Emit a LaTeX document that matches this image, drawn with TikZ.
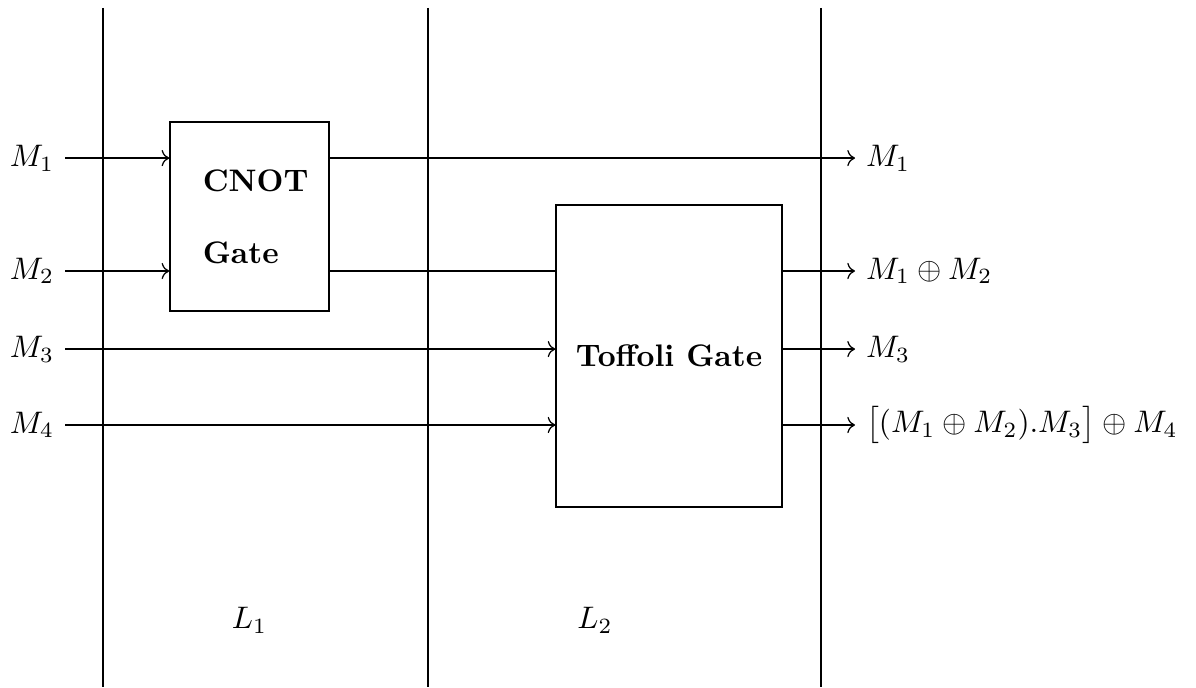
\documentclass[tikz,border=0pt]{standalone}
\usepackage{amsmath}
\usepackage{tikz}
\usetikzlibrary{arrows.meta,positioning,calc}
\tikzset{
  gatebox/.style={
    rectangle, draw=black, thin, align=left,
    font=\bfseries
  },
  wirearrow/.style={->, thin},
  wireline/.style={thin},
  layerline/.style={line width=0.9pt}
}

\begin{document}
\begin{tikzpicture}
\useasboundingbox (0,0) rectangle (13.5,-7.755);

% layer separators
\draw[layerline] (1.163,-0.090) -- (1.163,-7.755);
\draw[layerline] (4.831,-0.090) -- (4.831,-7.755);
\draw[layerline] (9.267,-0.090) -- (9.267,-7.755);

% gates
\node[gatebox, minimum width=1.795cm, minimum height=2.133cm] (cnot) at (2.816,-2.444)
  {\hspace*{4pt}CNOT\\[11pt]\hspace*{4pt}Gate};
\node[gatebox, minimum width=2.551cm, minimum height=3.409cm] (toffoli) at (7.552,-4.019)
  {Toffoli Gate};

% inputs
\node[anchor=east] (in1) at (0.734,-1.784) {$M_1$};
\node[anchor=east] (in2) at (0.734,-3.059) {$M_2$};
\node[anchor=east] (in3) at (0.734,-3.940) {$M_3$};
\node[anchor=east] (in4) at (0.734,-4.797) {$M_4$};

% outputs
\node[anchor=west] (out1) at (9.651,-1.784) {$M_1$};
\node[anchor=west] (out2) at (9.651,-3.059) {$M_1 \oplus M_2$};
\node[anchor=west] (out3) at (9.651,-3.940) {$M_3$};
\node[anchor=west] (out4) at (9.651,-4.797) {$\big[(M_1 \oplus M_2).M_3\big] \oplus M_4$};

% layer labels
\node (lay1) at (2.816,-6.999) {$L_1$};
\node (lay2) at (6.716,-6.999) {$L_2$};

\draw[wirearrow] (in1.east) -- (cnot.west |- in1);
\draw[wirearrow] (in2.east) -- (cnot.west |- in2);
\draw[wirearrow] (in3.east) -- (toffoli.west |- in3);
\draw[wirearrow] (in4.east) -- (toffoli.west |- in4);

\draw[wirearrow] (cnot.east |- out1) -- (out1.west);
\draw[wireline] (cnot.east |- in2) -- (toffoli.west |- in2);
\draw[wirearrow] (toffoli.east |- out2) -- (out2.west);
\draw[wirearrow] (toffoli.east |- out3) -- (out3.west);
\draw[wirearrow] (toffoli.east |- out4) -- (out4.west);
\end{tikzpicture}
\end{document}
